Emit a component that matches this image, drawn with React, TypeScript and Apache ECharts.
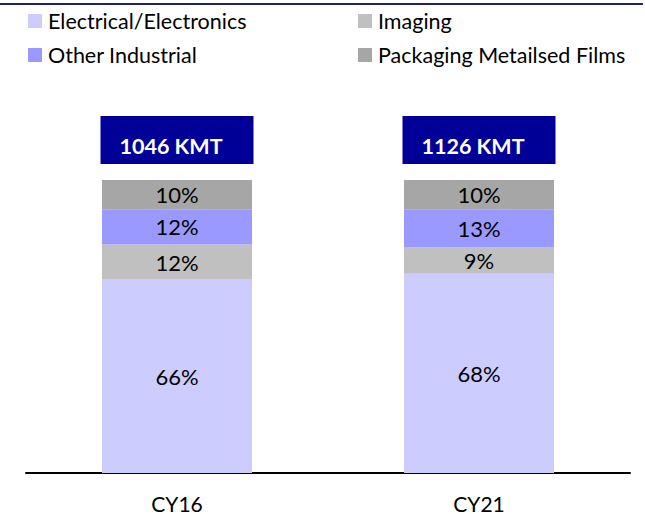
import React, { useEffect, useRef } from "react";
import * as echarts from "echarts";

const categories = ["CY16", "CY21"];
const electrical = [66, 68];
const imaging = [12, 9];
const otherIndustrial = [12, 13];
const packaging = [10, 10];
const totalsKMT = [1046, 1126];

const FONT = "Lato, 'Open Sans', sans-serif";

export default function App() {
  const ref = useRef<HTMLDivElement>(null);
  useEffect(() => {
    if (!ref.current) return;
    const chart = echarts.init(ref.current, undefined, { renderer: "svg" });
    const segLabel = {
      show: true,
      position: "inside",
      formatter: "{c}%",
      color: "#000",
      fontSize: 22,
      fontFamily: FONT,
    };
    const legendText = {
      fontSize: 21.5,
      lineHeight: 20,
      fontFamily: FONT,
      color: "#000",
      padding: [0, 0, 0, 1],
    };
    chart.setOption({
      animation: false,
      backgroundColor: "#fff",
      legend: [
        {
          data: ["Electrical/Electronics", "Other Industrial"],
          orient: "vertical",
          left: 23,
          top: 5,
          itemWidth: 14,
          itemHeight: 14,
          itemGap: 12,
          icon: "rect",
          textStyle: legendText,
          selectedMode: false,
        },
        {
          data: ["Imaging", "Packaging Metailsed Films"],
          orient: "vertical",
          left: 353,
          top: 5,
          itemWidth: 14,
          itemHeight: 14,
          itemGap: 12,
          icon: "rect",
          textStyle: legendText,
          selectedMode: false,
        },
      ],
      grid: { left: 26, right: 15, top: 180, bottom: 41 },
      xAxis: {
        type: "category",
        data: categories,
        axisLine: { show: true, lineStyle: { color: "#000", width: 2 } },
        axisTick: { show: false },
        axisLabel: {
          color: "#000",
          fontSize: 21,
          lineHeight: 18,
          fontFamily: FONT,
          margin: 21,
        },
      },
      yAxis: {
        type: "value",
        min: 0,
        max: 100,
        show: false,
        splitLine: { show: false },
      },
      graphic: [
        {
          type: "line",
          shape: { x1: 0, y1: 4, x2: 643, y2: 4 },
          style: { stroke: "#1F1F7A", lineWidth: 2 },
        },
      ],
      series: [
        {
          name: "Electrical/Electronics",
          type: "bar",
          stack: "s",
          barWidth: 150,
          data: electrical,
          itemStyle: { color: "#CCCCFF" },
          label: segLabel,
        },
        {
          name: "Imaging",
          type: "bar",
          stack: "s",
          data: imaging,
          itemStyle: { color: "#C0C0C0" },
          label: segLabel,
        },
        {
          name: "Other Industrial",
          type: "bar",
          stack: "s",
          data: otherIndustrial,
          itemStyle: { color: "#9999FF" },
          label: segLabel,
        },
        {
          name: "Packaging Metailsed Films",
          type: "bar",
          stack: "s",
          data: packaging,
          itemStyle: { color: "#A6A6A6" },
          label: segLabel,
        },
        {
          name: "Total",
          type: "custom",
          data: totalsKMT.map((v, i) => [i, v]),
          renderItem: (params: any, api: any) => {
            const idx = api.value(0);
            const val = api.value(1);
            const top = api.coord([idx, 100]);
            const w = api.size([1, 0])[0] * 0.5 + 2;
            const x0 = top[0] - w / 2;
            const y0 = top[1] - 64;
            return {
              type: "group",
              children: [
                {
                  type: "rect",
                  shape: { x: x0, y: y0, width: w, height: 48 },
                  style: { fill: "#000099" },
                },
                {
                  type: "text",
                  style: {
                    text: `${val} KMT`,
                    x: top[0] - 6,
                    y: y0 + 30,
                    align: "center",
                    verticalAlign: "middle",
                    fill: "#fff",
                    fontSize: 21.5,
                    fontWeight: "bold",
                    fontFamily: FONT,
                  },
                },
              ],
            };
          },
        },
      ],
    });
    return () => chart.dispose();
  }, []);
  return (
    <div
      ref={ref}
      style={{ position: "absolute", left: 0, top: 0, width: 645, height: 514 }}
    />
  );
}
